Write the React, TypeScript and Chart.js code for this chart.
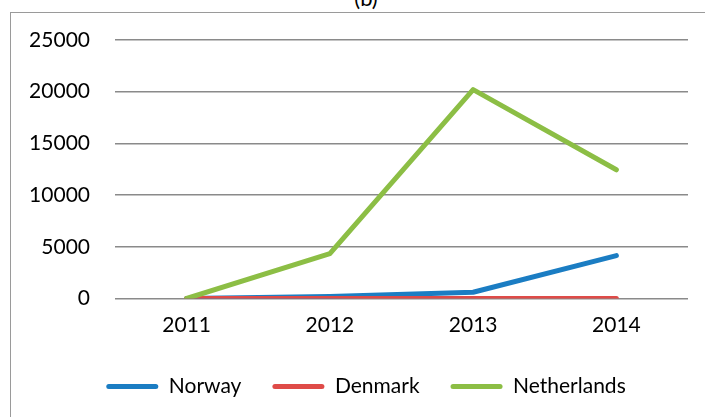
import React, { useEffect, useRef } from "react";
import { Chart, registerables } from "chart.js";

Chart.register(...registerables);

const categories = ["2011", "2012", "2013", "2014"];
const norway = [0, 200, 600, 4150];
const denmark = [0, 0, 0, 0];
const netherlands = [0, 4350, 20200, 12450];
const seriesNames = ["Norway", "Denmark", "Netherlands"];
const seriesColors = ["#1B7DC3", "#DF4B48", "#8CBE45"];
const yTicks = [0, 5000, 10000, 15000, 20000, 25000];

const FONT = "Lato, 'Open Sans', sans-serif";
const FS = 21;

export default function App() {
  const ref = useRef<HTMLCanvasElement>(null);
  useEffect(() => {
    const values = [norway, denmark, netherlands];
    const chart = new Chart(ref.current!, {
      type: "line",
      data: {
        labels: categories,
        datasets: seriesNames.map((name, i) => ({
          label: name,
          data: values[i],
          borderColor: seriesColors[i],
          backgroundColor: seriesColors[i],
          borderWidth: 5,
          pointRadius: 0,
          tension: 0,
          borderCapStyle: "round" as const,
          borderJoinStyle: "round" as const,
          order: seriesNames.length - 1 - i,
        })),
      },
      options: {
        animation: false,
        responsive: false,
        maintainAspectRatio: false,
        layout: { padding: { top: 40, left: 0, right: 0, bottom: 10 } },
        plugins: {
          tooltip: { enabled: false },
          legend: {
            position: "bottom",
            labels: {
              font: { family: FONT, size: FS },
              color: "#000",
              boxWidth: 52,
              boxHeight: 5,
              padding: 31,
              useBorderRadius: true,
              borderRadius: 2.5,
              generateLabels: (c: any) =>
                c.data.datasets.map((d: any, i: number) => ({
                  text: d.label,
                  fillStyle: d.borderColor,
                  strokeStyle: d.borderColor,
                  lineWidth: 0,
                  hidden: false,
                  datasetIndex: i,
                  fontColor: "#000",
                  borderRadius: 2.5,
                })),
            },
          },
        },
        scales: {
          x: {
            offset: true,
            grid: { display: false, drawTicks: false },
            border: { display: false },
            ticks: { font: { family: FONT, size: FS }, color: "#000", padding: 14 },
            afterFit: (s: any) => {
              s.height = 46.5;
            },
          },
          y: {
            min: 0,
            max: 25000,
            afterBuildTicks: (s: any) => {
              s.ticks = yTicks.map((v) => ({ value: v }));
            },
            grid: { color: "#8a8a8a", lineWidth: 1.5, drawTicks: false },
            border: { display: false },
            ticks: {
              font: { family: FONT, size: FS },
              color: "#000",
              padding: 25,
              callback: (v: any) => String(v),
            },
            afterFit: (s: any) => {
              s.width = 105;
            },
          },
          yRight: {
            type: "linear",
            position: "right",
            min: 0,
            max: 25000,
            grid: { display: false, drawTicks: false },
            border: { display: false },
            ticks: { display: false },
            afterFit: (s: any) => {
              s.width = 34;
            },
          },
        },
      },
    });
    return () => chart.destroy();
  }, []);

  return (
    <div style={{ position: "fixed", left: 0, top: 0, width: 705, height: 417, background: "#fff", overflow: "hidden" }}>
      <div
        style={{
          position: "absolute",
          left: 10,
          top: 12,
          width: 720,
          height: 440,
          border: "1.5px solid #9a9a9a",
          boxSizing: "border-box",
        }}
      />
      <div
        style={{
          position: "absolute",
          left: 10,
          width: 712,
          top: -15,
          textAlign: "center",
          fontFamily: FONT,
          fontSize: 22,
          lineHeight: "26px",
          color: "#000",
        }}
      >
        (b)
      </div>
      <canvas ref={ref} width={712} height={417} style={{ position: "absolute", left: 10, top: 0 }} />
    </div>
  );
}
